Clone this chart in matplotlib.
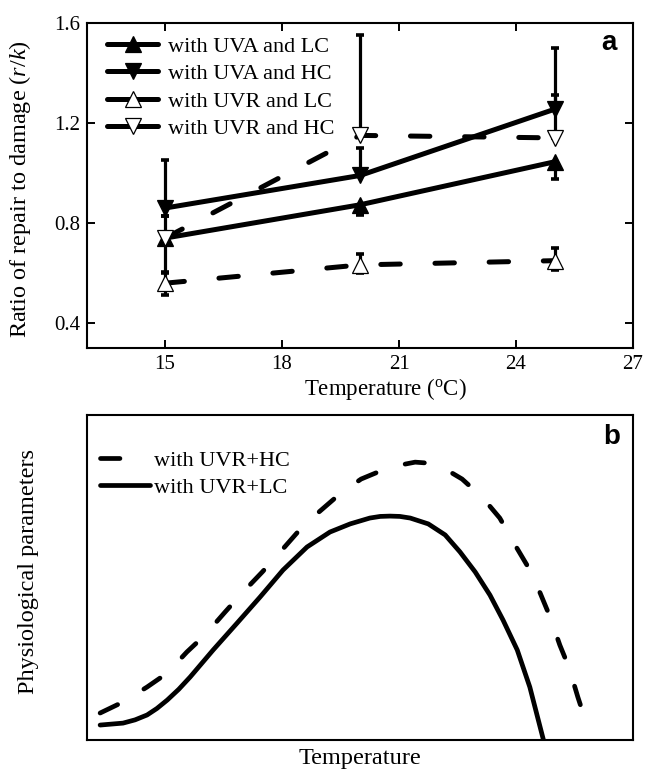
import matplotlib
matplotlib.use("Agg")
import matplotlib.pyplot as plt
from matplotlib.lines import Line2D

plt.rcParams["font.family"] = ["Liberation Serif", "DejaVu Serif"]
plt.rcParams["mathtext.fontset"] = "custom"
plt.rcParams["mathtext.rm"] = "Liberation Serif"
plt.rcParams["mathtext.it"] = "Liberation Serif:italic"
plt.rcParams["lines.scale_dashes"] = False

# ---- panel a data ----
temps = [15, 20, 25]
labels_a = ["with UVA and LC", "with UVA and HC", "with UVR and LC", "with UVR and HC"]

uva_lc = [0.74, 0.873, 1.045]
uva_lc_lo = [0.14, 0.04, 0.07]
uva_lc_hi = [0.0, 0.0, 0.0]

uva_hc = [0.86, 0.99, 1.255]
uva_hc_lo = [0.03, 0.0, 0.0]
uva_hc_hi = [0.19, 0.11, 0.245]

uvr_lc = [0.56, 0.633, 0.65]
uvr_lc_lo = [0.047, 0.033, 0.037]
uvr_lc_hi = [0.045, 0.045, 0.05]

uvr_hc = [0.74, 1.15, 1.14]
uvr_hc_lo = [0.0, 0.0, 0.0]
uvr_hc_hi = [0.09, 0.40, 0.17]

xticks_a = [15, 18, 21, 24, 27]
yticks_a = [0.4, 0.8, 1.2, 1.6]

# ---- panel b data (conceptual curves, arbitrary units) ----
lc_x = [2.4, 6.6, 8.8, 11.0, 12.8, 14.7, 16.8, 18.9, 23.1, 27.5, 31.7, 35.9,
        40.3, 44.5, 48.2, 51.8, 53.7, 55.5, 57.3, 59.2, 62.5, 65.6, 68.3,
        71.1, 73.8, 76.2, 78.8, 81.1, 83.6]
lc_y = [4.6, 5.2, 6.2, 7.7, 9.7, 12.3, 15.6, 19.4, 27.7, 36.0, 44.0, 52.3,
        59.4, 64.0, 66.5, 68.3, 68.8, 68.9, 68.8, 68.3, 66.5, 63.1, 57.9,
        51.7, 44.6, 36.9, 27.7, 16.3, 0.0]

hc_x = [2.4, 6.6, 11.0, 14.7, 18.3, 21.6, 25.3, 28.4, 32.1, 35.2, 38.6, 42.3,
        46.5, 50.2, 55.5, 60.1, 62.5, 65.0, 68.7, 72.5, 75.6, 78.4, 80.8, 83.0,
        84.8, 86.6, 88.3, 89.9, 91.4]
hc_y = [8.3, 11.7, 16.3, 20.6, 27.1, 32.3, 39.4, 45.2, 51.7, 57.5, 64.0, 69.9,
        76.0, 80.3, 84.0, 85.5, 85.2, 84.0, 80.3, 74.5, 68.3, 60.0, 53.2, 45.2,
        37.9, 29.2, 22.2, 13.2, 5.5]

fig = plt.figure(figsize=(6.45, 7.71), dpi=100)
ax1 = fig.add_axes([0.1349, 0.5482, 0.8465, 0.4224])
ax2 = fig.add_axes([0.1349, 0.0402, 0.8465, 0.4215])

lw = 3.6
dash_a = (0, (14, 25))

series = [
    (uva_lc, uva_lc_lo, uva_lc_hi, "-", "^", "black"),
    (uva_hc, uva_hc_lo, uva_hc_hi, "-", "v", "black"),
    (uvr_lc, uvr_lc_lo, uvr_lc_hi, dash_a, "^", "white"),
    (uvr_hc, uvr_hc_lo, uvr_hc_hi, dash_a, "v", "white"),
]

handles = []
for (vals, lo, hi, ls, mk, face), lab in zip(series, labels_a):
    ax1.errorbar(temps, vals, yerr=[lo, hi], fmt="none", ecolor="black",
                 elinewidth=2.3, capsize=3, capthick=2.6, zorder=2)
    ax1.plot(temps, vals, color="black", lw=lw, linestyle=ls,
             dash_capstyle="round", solid_capstyle="round", zorder=3)
    ax1.plot(temps, vals, linestyle="none", marker=mk, ms=11,
             mfc=face, mec="black", mew=0.9, zorder=4)
    handles.append(Line2D([], [], color="black", lw=lw, ls="-", marker=mk,
                          ms=11, mfc=face, mec="black", mew=0.9,
                          solid_capstyle="round"))

ax1.set_xlim(13, 27)
ax1.set_ylim(0.3, 1.6)
ax1.set_xticks(xticks_a)
ax1.set_yticks(yticks_a)
ax1.set_yticklabels(["0.4", "0.8", "1.2", "1.6"])
ax1.tick_params(direction="in", top=True, right=True, length=6, width=1.4,
                labelsize=15, pad=5)
for sp in ax1.spines.values():
    sp.set_linewidth(1.5)

ax1.set_xlabel("Temperature ($^{\\mathrm{o}}$C)", fontsize=16.5)
ax1.xaxis.set_label_coords(0.546, -0.085)
ax1.set_ylabel("Ratio of repair to damage ($r$/$k$)", fontsize=17.5)
ax1.yaxis.set_label_coords(-0.099, 0.49)

ax1.legend(handles, labels_a, loc="upper left", bbox_to_anchor=(0.0, 1.02),
           frameon=False, fontsize=16, handlelength=2.3, handletextpad=0.45,
           labelspacing=0.31, borderaxespad=0.6, borderpad=0.3)
ax1.text(0.956, 0.938, "a", transform=ax1.transAxes, ha="center", va="center",
         fontsize=20, fontweight="bold", family="Liberation Sans")

# ---- panel b ----
ax2.plot(hc_x, hc_y, color="black", lw=3.4, linestyle=(0, (14, 22)),
         dash_capstyle="round", dash_joinstyle="round", label="with UVR+HC")
ax2.plot(lc_x, lc_y, color="black", lw=3.4, solid_capstyle="round",
         solid_joinstyle="round", label="with UVR+LC")
ax2.set_xlim(0, 100)
ax2.set_ylim(0, 100)
ax2.set_xticks([])
ax2.set_yticks([])
for sp in ax2.spines.values():
    sp.set_linewidth(1.5)
ax2.set_xlabel("Temperature", fontsize=17.5)
ax2.xaxis.set_label_coords(0.5, -0.025)
ax2.set_ylabel("Physiological parameters", fontsize=17.5)
ax2.yaxis.set_label_coords(-0.088, 0.52)
ax2.legend(loc="upper left", bbox_to_anchor=(0.0, 0.932), frameon=False,
           fontsize=16, handlelength=2.25, handletextpad=0.15,
           labelspacing=0.3, borderaxespad=0.3, borderpad=0.3)
ax2.text(0.9615, 0.932, "b", transform=ax2.transAxes, ha="center", va="center",
         fontsize=20, fontweight="bold", family="Liberation Sans")

fig.savefig("out.png", dpi=100)
